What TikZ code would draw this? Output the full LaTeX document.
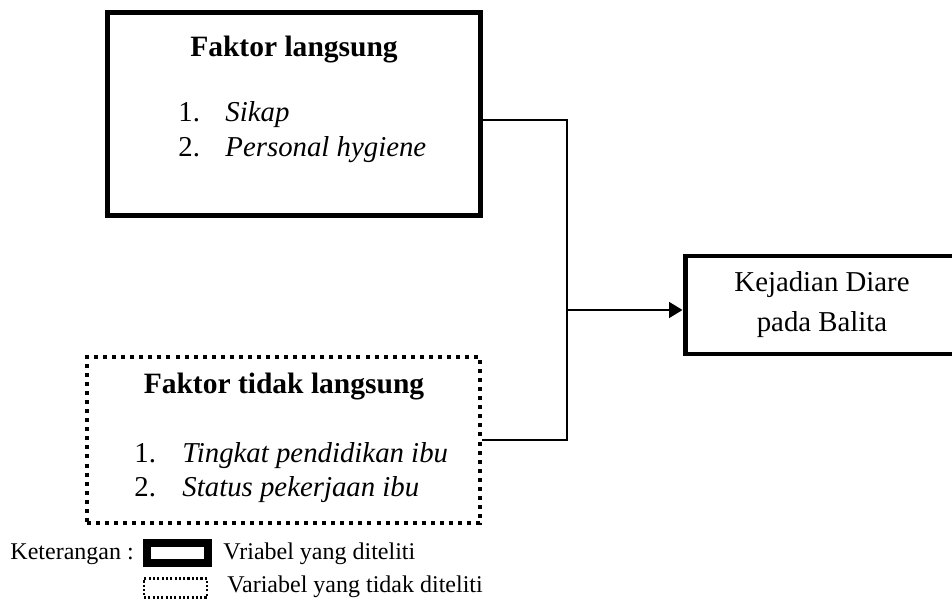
\documentclass[tikz,border=0pt]{standalone}
\usepackage{fontspec}
\setmainfont{Liberation Serif}
\usetikzlibrary{arrows.meta,positioning,calc}

\newdimen\pu \pu=0.4167pt

\begin{document}
\begin{tikzpicture}[x=0.4167pt,y=-0.4167pt,
  kotak/.style={draw,rectangle,line width=2.08pt,inner sep=0pt},
  kotaktitik/.style={draw,rectangle,line width=1.67pt,dash pattern=on 1.67pt off 2.1pt,inner sep=0pt},
  teks/.style={inner sep=0pt,font=\fontsize{12}{14}\selectfont},
  judul/.style={inner sep=0pt,anchor=base,font=\fontsize{12.3}{14}\selectfont\bfseries},
  ket/.style={inner sep=0pt,anchor=base west,font=\fontsize{10}{12}\selectfont},
  garis/.style={line width=0.85pt}]
\useasboundingbox (0,0) rectangle (952,601);

% kotak faktor langsung
\node[kotak,minimum width=373*\pu,minimum height=203*\pu] (langsung) at (294,114) {};
\node[judul] (judulA) at (294,57) {Faktor langsung};
\node[teks,anchor=base west] (noA1) at (178,122) {1.};
\node[teks,anchor=base west] (itemA1) at (225,122) {\itshape Sikap};
\node[teks,anchor=base west] (noA2) at (178,157) {2.};
\node[teks,anchor=base west] (itemA2) at (225,157) {\itshape Personal hygiene};

% kotak faktor tidak langsung
\node[kotaktitik,minimum width=393*\pu,minimum height=166*\pu] (tidak) at (283.5,440) {};
\node[judul] (judulB) at (284,394) {Faktor tidak langsung};
\node[teks,anchor=base west] (noB1) at (134,463) {1.};
\node[teks,anchor=base west] (itemB1) at (182,463) {\itshape Tingkat pendidikan ibu};
\node[teks,anchor=base west] (noB2) at (134,497) {2.};
\node[teks,anchor=base west] (itemB2) at (182,497) {\itshape Status pekerjaan ibu};

% kotak hasil
\node[kotak,minimum width=272*\pu,minimum height=98*\pu] (hasil) at (821,305) {};
\node[teks,anchor=base] (hasil1) at (822,292) {Kejadian Diare};
\node[teks,anchor=base] (hasil2) at (822,332) {pada Balita};

% penghubung
\coordinate (atas) at (567,120);
\coordinate (bawah) at (567,440);
\coordinate (cabang) at (567,310);
\draw[garis] (atas -| langsung.east) -- (atas) -- (bawah) -- (bawah -| tidak.east);
\draw[garis,-{Triangle[length=5.6pt,width=6.6pt]}] (cabang) -- (cabang -| hasil.west);

% keterangan
\node[ket] (keterangan) at (10,560) {Keterangan :};
\node[draw,rectangle,line width=3.4pt,inner sep=0pt,minimum width=61*\pu,minimum height=20*\pu] (legA) at (177.5,553) {};
\node[ket] (ketA) at (223,560) {Vriabel yang diteliti};
\node[draw,rectangle,line width=0.9pt,dash pattern=on 0.9pt off 0.9pt,inner sep=0pt,minimum width=63*\pu,minimum height=19*\pu] (legB) at (175.5,588) {};
\node[ket] (ketB) at (227,593) {Variabel yang tidak diteliti};
\end{tikzpicture}
\end{document}
